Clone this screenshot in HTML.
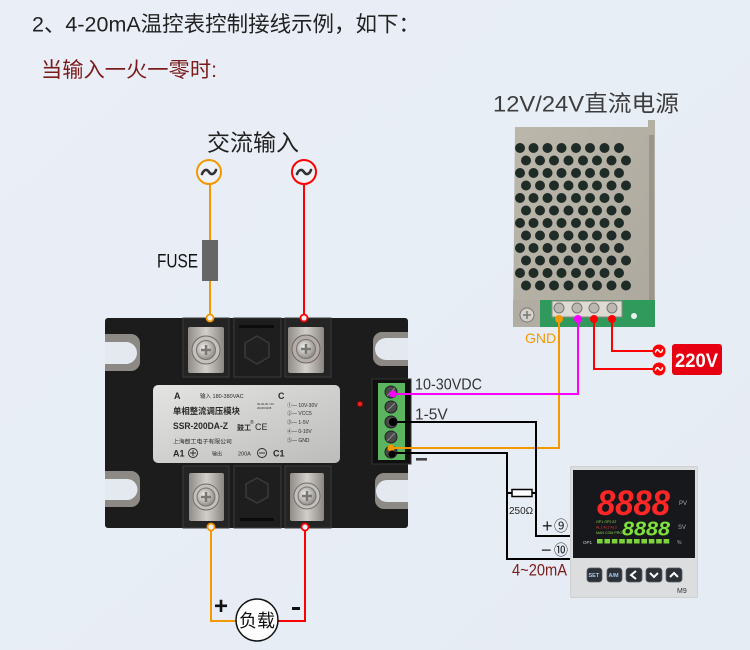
<!DOCTYPE html>
<html><head><meta charset="utf-8"><style>
html,body{margin:0;padding:0;background:#e9eef6;}
svg{display:block;}
text{font-family:"Liberation Sans","Noto Sans CJK SC",sans-serif;}
</style></head><body>
<svg width="750" height="650" viewBox="0 0 750 650" xmlns="http://www.w3.org/2000/svg">
<defs>
<linearGradient id="bg" x1="0" y1="0" x2="1" y2="1"><stop offset="0" stop-color="#eaeff7"/><stop offset="1" stop-color="#e6ecf4"/></linearGradient>
<radialGradient id="screw" cx="0.4" cy="0.4" r="0.65"><stop offset="0" stop-color="#f2f2f0"/><stop offset="1" stop-color="#8a8783"/></radialGradient>
<linearGradient id="plate" x1="0" y1="0" x2="1" y2="1"><stop offset="0" stop-color="#e4e4e2"/><stop offset="1" stop-color="#bcbcba"/></linearGradient>
<linearGradient id="term" x1="0" y1="0" x2="1" y2="0"><stop offset="0" stop-color="#8f8b87"/><stop offset="0.5" stop-color="#d2cfcb"/><stop offset="1" stop-color="#8a8682"/></linearGradient>
<linearGradient id="psu" x1="0" y1="0" x2="1" y2="1"><stop offset="0" stop-color="#bbb7ab"/><stop offset="1" stop-color="#aca89d"/></linearGradient>
<g id="tilde"><path d="M-7,2 C-5,-3 -2,-3 0,0 S5,3 7,-2" fill="none" stroke="#333" stroke-width="2.6" stroke-linecap="round"/></g>
<g id="wtilde"><path d="M-3.5,1 C-2.5,-1.8 -1,-1.8 0,0 S2.5,1.8 3.5,-1" fill="none" stroke="#fff" stroke-width="1.6" stroke-linecap="round"/></g>
<g id="rowA" fill="#1f2b26"><circle cx="520" cy="0" r="5"/><circle cx="533.5" cy="0" r="5"/><circle cx="547.5" cy="0" r="5"/><circle cx="561.5" cy="0" r="5"/><circle cx="576" cy="0" r="5"/><circle cx="590" cy="0" r="5"/><circle cx="604.5" cy="0" r="5"/><circle cx="619" cy="0" r="5"/></g>
<g id="rowB" fill="#1f2b26"><circle cx="526" cy="0" r="5"/><circle cx="540" cy="0" r="5"/><circle cx="554" cy="0" r="5"/><circle cx="568.5" cy="0" r="5"/><circle cx="583" cy="0" r="5"/><circle cx="597" cy="0" r="5"/><circle cx="611.5" cy="0" r="5"/><circle cx="626" cy="0" r="5"/></g>
</defs>
<rect width="750" height="650" fill="url(#bg)"/>

<!-- titles -->
<text x="32" y="31.5" font-size="21.5" fill="#222" textLength="388" lengthAdjust="spacingAndGlyphs">2、4-20mA温控表控制接线示例，如下：</text>
<text x="41" y="77" font-size="21" fill="#7b1c1c" textLength="176" lengthAdjust="spacingAndGlyphs">当输入一火一零时:</text>
<text x="207" y="150.5" font-size="23" fill="#222">交流输入</text>
<text x="493" y="111.5" font-size="22.5" fill="#3d3d3d" textLength="186" lengthAdjust="spacingAndGlyphs">12V/24V直流电源</text>

<!-- AC input -->
<line x1="210" y1="184" x2="210" y2="315" stroke="#f39800" stroke-width="2"/>
<line x1="304" y1="184" x2="304" y2="315" stroke="#ff0000" stroke-width="2"/>
<circle cx="209" cy="172" r="12" fill="#eef2f8" stroke="#f39800" stroke-width="2"/>
<use href="#tilde" x="209" y="172"/>
<circle cx="304" cy="172" r="12" fill="#eef2f8" stroke="#ff0000" stroke-width="2"/>
<use href="#tilde" x="304" y="172"/>
<rect x="202" y="240" width="16" height="41" fill="#666"/>
<text x="157" y="267.5" font-size="19" fill="#111" textLength="41" lengthAdjust="spacingAndGlyphs">FUSE</text>

<!-- SSR module body -->
<rect x="105" y="318" width="303" height="210" rx="3" fill="#1c1c1c"/>
<path d="M105,334 H131 A9,9 0 0 1 140,343 V362 A9,9 0 0 1 131,371 H105 Z" fill="#8d8a86"/>
<path d="M105,342 H126 A11,11 0 0 1 126,364 H105 Z" fill="#e4e9f0"/>
<path d="M105,471 H131 A9,9 0 0 1 140,480 V498 A9,9 0 0 1 131,507 H105 Z" fill="#8d8a86"/>
<path d="M105,479 H127 A10.5,10.5 0 0 1 127,500 H105 Z" fill="#e4e9f0"/>
<path d="M408,332 H382 A9,9 0 0 0 373,341 V357 A9,9 0 0 0 382,366 H408 Z" fill="#8d8a86"/>
<path d="M408,338 H386 A11,11 0 0 0 386,360 H408 Z" fill="#e4e9f0"/>
<path d="M408,473 H384 A9,9 0 0 0 375,482 V500 A9,9 0 0 0 384,509 H408 Z" fill="#8d8a86"/>
<path d="M408,480 H387 A11,11 0 0 0 387,502 H408 Z" fill="#e4e9f0"/>

<!-- top terminals -->
<rect x="183" y="318" width="46" height="59" fill="#242424" stroke="#3c3c3c"/>
<rect x="234" y="318" width="47" height="59" fill="#1e1e1e" stroke="#3c3c3c"/>
<rect x="285" y="318" width="46" height="59" fill="#242424" stroke="#3c3c3c"/>
<rect x="188" y="327" width="36" height="46" rx="2" fill="url(#term)"/>
<rect x="288" y="327" width="36" height="46" rx="2" fill="url(#term)"/>
<circle cx="206" cy="350" r="14" fill="#c4c1bd" stroke="#6e6b67"/>
<circle cx="206" cy="350" r="9.5" fill="url(#screw)" stroke="#77736f"/>
<path d="M201,350 H211 M206,345 V355" stroke="#7a7672" stroke-width="2.5"/>
<circle cx="306" cy="349" r="14" fill="#b5aea8" stroke="#6e6460"/>
<circle cx="306" cy="349" r="9.5" fill="url(#screw)" stroke="#77736f"/>
<path d="M301,349 H311 M306,344 V354" stroke="#7a7672" stroke-width="2.5"/>
<rect x="239" y="325" width="35" height="3" fill="#0c0c0c"/>
<polygon points="257,336 269,343 269,357 257,364 245,357 245,343" fill="#202020" stroke="#3a3a3a" stroke-width="1.5"/>

<!-- bottom terminals -->
<rect x="183" y="466" width="46" height="62" fill="#242424" stroke="#3c3c3c"/>
<rect x="234" y="466" width="47" height="62" fill="#1e1e1e" stroke="#3c3c3c"/>
<rect x="285" y="466" width="46" height="62" fill="#242424" stroke="#3c3c3c"/>
<rect x="189" y="473" width="35" height="48" rx="2" fill="url(#term)"/>
<rect x="290" y="473" width="34" height="48" rx="2" fill="url(#term)"/>
<circle cx="206" cy="497" r="13" fill="#c4c1bd" stroke="#6e6b67"/>
<circle cx="206" cy="497" r="9" fill="url(#screw)" stroke="#77736f"/>
<path d="M201,497 H211 M206,492 V502" stroke="#7a7672" stroke-width="2.5"/>
<circle cx="307" cy="496" r="13" fill="#c4c1bd" stroke="#6e6b67"/>
<circle cx="307" cy="496" r="9" fill="url(#screw)" stroke="#77736f"/>
<path d="M302,496 H312 M307,491 V501" stroke="#7a7672" stroke-width="2.5"/>
<polygon points="257,478 268,484 268,497 257,503 246,497 246,484" fill="#202020" stroke="#3a3a3a" stroke-width="1.5"/>
<rect x="240" y="518" width="34" height="3" fill="#0c0c0c"/>

<!-- label plate -->
<rect x="153" y="385" width="187" height="78" rx="5" fill="url(#plate)"/>
<g fill="#2a2a2a">
<text x="174" y="399" font-size="9" font-weight="bold">A</text>
<text x="200" y="398" font-size="5.5">输入 180-380VAC</text>
<text x="278" y="399" font-size="9" font-weight="bold">C</text>
<text x="257" y="405" font-size="2.8">00-00-00 / 00</text>
<text x="257" y="409" font-size="2.8">2024K0208</text>
<text x="173" y="414" font-size="8.4" font-weight="bold">单相整流调压模块</text>
<text x="173" y="429" font-size="9" font-weight="bold" textLength="55" lengthAdjust="spacingAndGlyphs">SSR-200DA-Z</text>
<text x="237" y="430" font-size="7" font-weight="bold">鼓工</text>
<text x="250" y="424" font-size="5">®</text>
<text x="255" y="430" font-size="9">CE</text>
<text x="173" y="443.5" font-size="5.9">上海鼓工电子有限公司</text>
<text x="173" y="456.5" font-size="9" font-weight="bold">A1</text>
<circle cx="193" cy="453" r="4.5" fill="none" stroke="#2a2a2a" stroke-width="0.9"/>
<path d="M190,453 H196 M193,450 V456" stroke="#2a2a2a" stroke-width="0.9"/>
<text x="212" y="455.5" font-size="5">输出</text>
<text x="238" y="455.5" font-size="5.5">200A</text>
<circle cx="262" cy="453" r="4.5" fill="none" stroke="#2a2a2a" stroke-width="0.9"/>
<path d="M259,453 H265" stroke="#2a2a2a" stroke-width="0.9"/>
<text x="273" y="456.5" font-size="9" font-weight="bold">C1</text>
<text x="287" y="407" font-size="5">①— 10V-30V</text>
<text x="287" y="415" font-size="5">②— VCC5</text>
<text x="287" y="424" font-size="5">③— 1-5V</text>
<text x="287" y="433" font-size="5">④— 0-10V</text>
<text x="287" y="442" font-size="5">⑤— GND</text>
</g>

<!-- LED -->
<circle cx="360" cy="404" r="3.5" fill="#5a0a0a"/>
<circle cx="360" cy="404" r="2.3" fill="#e22"/>

<!-- green terminal block -->
<rect x="372" y="379" width="39" height="85" fill="#0f0f0f" stroke="#333"/>
<rect x="378" y="383" width="27" height="77" fill="#5bb55e"/>
<g fill="#4a4a4a" stroke="#222">
<circle cx="391" cy="392" r="6"/><circle cx="391" cy="407" r="6"/><circle cx="391" cy="422" r="6"/><circle cx="391" cy="437" r="6"/><circle cx="391" cy="452" r="6"/>
</g>
<g stroke="#888" stroke-width="1.2">
<path d="M387,396 L395,388 M387,411 L395,403 M387,441 L395,433"/>
</g>

<!-- PSU -->
<path d="M515,127 H648 V120 H655 V327 H513 Z" fill="url(#psu)"/>
<rect x="649" y="135" width="5" height="165" fill="#9a968c"/>
<use href="#rowA" y="148"/><use href="#rowB" y="160.5"/>
<use href="#rowA" y="173"/><use href="#rowB" y="185.5"/>
<use href="#rowA" y="198"/><use href="#rowB" y="210.5"/>
<use href="#rowA" y="223"/><use href="#rowB" y="235.5"/>
<use href="#rowA" y="248"/><use href="#rowB" y="260.5"/>
<use href="#rowA" y="273"/><use href="#rowB" y="285.5"/>
<rect x="540" y="300" width="115" height="27" fill="#2f9a5c"/>
<rect x="513" y="300" width="27" height="27" fill="#b1ada3"/>
<circle cx="527" cy="315" r="7" fill="#d4d1c9" stroke="#777"/>
<path d="M523,315 H531 M527,311 V319" stroke="#777" stroke-width="1.5"/>
<rect x="552" y="301" width="70" height="16" fill="#dedbd2" stroke="#8c8a84"/>
<g fill="#bcb8b0" stroke="#777"><circle cx="559" cy="308" r="5"/><circle cx="577" cy="308" r="5"/><circle cx="594" cy="308" r="5"/><circle cx="612" cy="308" r="5"/></g>
<circle cx="634" cy="316" r="3" fill="#eee"/>

<!-- PSU wires -->
<polyline points="559,319 559,448 391,448" fill="none" stroke="#f39800" stroke-width="2"/>
<polyline points="578,319 578,394 393,394" fill="none" stroke="#ff00ff" stroke-width="2"/>
<polyline points="612,319 612,351 653,351" fill="none" stroke="#ff0000" stroke-width="2"/>
<polyline points="594,319 594,369 653,369" fill="none" stroke="#ff0000" stroke-width="2"/>
<circle cx="559" cy="319" r="4" fill="#f39800"/>
<circle cx="578" cy="319" r="4" fill="#ff00ff"/>
<circle cx="594" cy="319" r="4" fill="#ff0000"/>
<circle cx="612" cy="319" r="4" fill="#ff0000"/>
<text x="525" y="343" font-size="14" fill="#f39800">GND</text>
<circle cx="659" cy="351" r="6.5" fill="#ff0000"/><use href="#wtilde" x="659" y="351"/>
<circle cx="659" cy="369" r="6.5" fill="#ff0000"/><use href="#wtilde" x="659" y="369"/>
<rect x="672" y="344" width="50" height="31" rx="3" fill="#e60012"/>
<text x="675" y="367" font-size="19" font-weight="bold" fill="#fff" textLength="43" lengthAdjust="spacingAndGlyphs">220V</text>

<!-- signal wires -->
<polyline points="394,422 536,422 536,536 571,536" fill="none" stroke="#000" stroke-width="2"/>
<polyline points="393,453 507,453 507,559 571,559" fill="none" stroke="#000" stroke-width="2"/>
<line x1="507" y1="493" x2="536" y2="493" stroke="#000" stroke-width="2"/>
<rect x="512" y="489.5" width="20" height="7" fill="#fff" stroke="#000" stroke-width="1.5"/>
<text x="509" y="514" font-size="10" fill="#222">250Ω</text>
<circle cx="393" cy="394" r="3.5" fill="#ff00ff"/>
<circle cx="393" cy="422" r="4" fill="#000"/>
<circle cx="391" cy="448" r="3.5" fill="#f39800"/>
<circle cx="392" cy="454" r="3.5" fill="#000"/>
<text x="415" y="389.5" font-size="15.5" fill="#333" textLength="67" lengthAdjust="spacingAndGlyphs">10-30VDC</text>
<text x="415" y="419.5" font-size="15.5" fill="#333">1-5V</text>
<rect x="416" y="458" width="11" height="2.6" fill="#444"/>
<text x="542" y="532" font-size="18" fill="#222">+</text>
<text x="554" y="531" font-size="14" fill="#222">⑨</text>
<text x="541" y="556" font-size="18" fill="#222">−</text>
<text x="554" y="555" font-size="14" fill="#222">⑩</text>
<text x="512" y="575.5" font-size="16.5" fill="#7b1c1c" textLength="55" lengthAdjust="spacingAndGlyphs">4~20mA</text>

<!-- controller -->
<rect x="570" y="466" width="128" height="132" rx="2" fill="#cfd0d2"/>
<rect x="571" y="467" width="126" height="130" rx="2" fill="#dcdddf"/>
<rect x="573" y="470" width="122" height="88" fill="#16181b"/>
<text x="597" y="515" font-size="35" font-weight="bold" font-style="italic" fill="#ff2626" textLength="73" lengthAdjust="spacingAndGlyphs">8888</text>
<text x="679" y="505" font-size="6" fill="#aaa">PV</text>
<text x="622" y="535.5" font-size="20" font-weight="bold" font-style="italic" fill="#7ee03a" textLength="48" lengthAdjust="spacingAndGlyphs">8888</text>
<text x="678" y="529" font-size="6" fill="#aaa">SV</text>
<text x="596" y="523" font-size="3.6" fill="#8fd14f">OP1 OP2 AT</text>
<text x="596" y="528.5" font-size="3.6" fill="#ee3333">AL1 AL2 AL3</text>
<text x="596" y="534" font-size="3.6" fill="#8fd14f">MAN COM PRG</text>
<text x="583" y="544" font-size="4.5" fill="#ccc">OP1</text>
<g fill="#7ed23a">
<rect x="597" y="539" width="5.6" height="4.5"/><rect x="604.4" y="539" width="5.6" height="4.5"/><rect x="611.8" y="539" width="5.6" height="4.5"/><rect x="619.2" y="539" width="5.6" height="4.5"/><rect x="626.6" y="539" width="5.6" height="4.5"/><rect x="634" y="539" width="5.6" height="4.5"/><rect x="641.4" y="539" width="5.6" height="4.5"/><rect x="648.8" y="539" width="5.6" height="4.5"/><rect x="656.2" y="539" width="5.6" height="4.5"/><rect x="663.6" y="539" width="5.6" height="4.5"/>
</g>
<text x="677" y="544" font-size="5" fill="#aaa">%</text>
<g fill="#2c3037" stroke="#5a5f66" stroke-width="0.8">
<rect x="587" y="568" width="15" height="14" rx="3"/><rect x="607" y="568" width="15" height="14" rx="3"/><rect x="626" y="568" width="16" height="14" rx="3"/><rect x="646" y="568" width="16" height="14" rx="3"/><rect x="666" y="568" width="16" height="14" rx="3"/>
</g>
<text x="588.5" y="577" font-size="5.5" font-weight="bold" fill="#a8cdf0">SET</text>
<text x="608.5" y="577" font-size="5.5" font-weight="bold" fill="#a8cdf0">A/M</text>
<path d="M636,571 L631,575 L636,579" fill="none" stroke="#fff" stroke-width="2"/>
<path d="M650,573 L654,577 L658,573" fill="none" stroke="#fff" stroke-width="2"/>
<path d="M670,577 L674,573 L678,577" fill="none" stroke="#fff" stroke-width="2"/>
<text x="677" y="593" font-size="7" fill="#333">M9</text>

<!-- AC rings on module -->
<circle cx="210" cy="318" r="3.5" fill="#eef2f8" stroke="#f39800" stroke-width="1.8"/>
<circle cx="304" cy="318" r="3.5" fill="#eef2f8" stroke="#ff0000" stroke-width="1.8"/>

<!-- load -->
<polyline points="211,530 211,621 236,621" fill="none" stroke="#f39800" stroke-width="2"/>
<polyline points="305,530 305,621 278,621" fill="none" stroke="#ff0000" stroke-width="2"/>
<circle cx="211" cy="527" r="3.5" fill="#eef2f8" stroke="#f39800" stroke-width="1.8"/>
<circle cx="305" cy="527" r="3.5" fill="#eef2f8" stroke="#ff0000" stroke-width="1.8"/>
<circle cx="257" cy="620" r="21" fill="#fff" stroke="#111" stroke-width="1.5"/>
<text x="257" y="627" font-size="18" fill="#111" text-anchor="middle">负载</text>
<text x="214" y="614" font-size="24" font-weight="bold" fill="#111">+</text>
<rect x="292" y="607" width="8" height="3" fill="#111"/>
</svg>
</body></html>
